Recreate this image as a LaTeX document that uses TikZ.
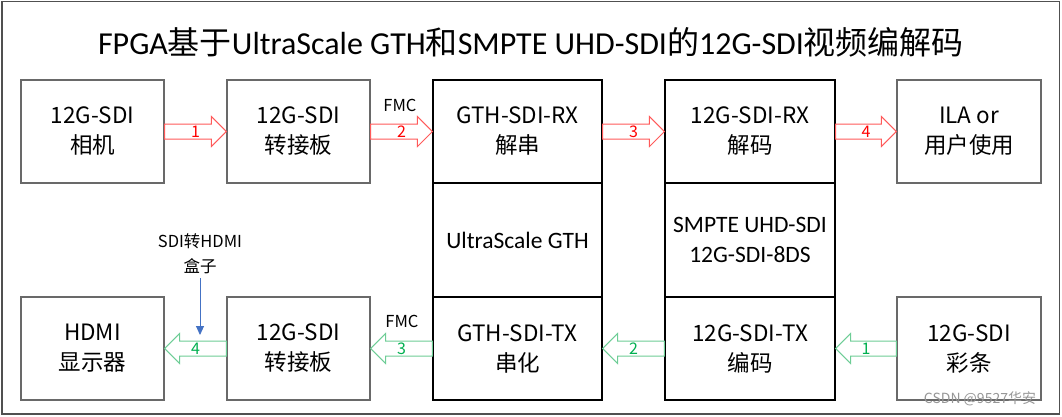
\documentclass[tikz,border=0pt]{standalone}
\usepackage{fontspec}
\setmainfont{Carlito}
\newfontfamily\cjk{Noto Sans CJK SC}
\usetikzlibrary{calc,arrows.meta}
\definecolor{boxgray}{RGB}{105,105,105}
\definecolor{framegray}{RGB}{80,80,80}
\definecolor{arrred}{RGB}{255,90,90}
\definecolor{numred}{RGB}{255,0,0}
\definecolor{arrgreen}{RGB}{110,205,150}
\definecolor{numgreen}{RGB}{0,176,80}
\definecolor{blueline}{RGB}{68,114,196}
\definecolor{wmgray}{RGB}{150,150,150}
\tikzset{
  box/.style={draw=boxgray, line width=1.2pt, inner sep=0pt, align=center,
    font=\cjk\fontsize{22.5}{30}\selectfont, text=black},
  colbox/.style={box, draw=black, line width=1.1pt},
  latinbox/.style={colbox, font=\fontsize{23.5}{30}\selectfont},
  rarrow/.style={draw=arrred, line width=1pt, fill=white},
  garrow/.style={draw=arrgreen, line width=1pt, fill=white},
  rnum/.style={text=numred, font=\cjk\fontsize{16}{16}\selectfont, inner sep=0pt},
  gnum/.style={text=numgreen, font=\cjk\fontsize{16}{16}\selectfont, inner sep=0pt},
  small/.style={font=\cjk\fontsize{16.5}{25}\selectfont, align=center, inner sep=0pt},
  bluearr/.style={draw=blueline, line width=0.9pt, -{Triangle[length=9pt,width=8pt]}},
}
% #1 start, #2 end, #3 arrow style, #4 number style, #5 label name, #6 label
\newcommand\blockarrow[6]{%
  \coordinate (h) at ($(#2)!15pt!(#1)$);
  \draw[#3] ($(#1)+(0,7.5)$) -- ($(h)+(0,7.5)$) -- ($(h)+(0,15)$) -- (#2)
     -- ($(h)+(0,-15)$) -- ($(h)+(0,-7.5)$) -- ($(#1)+(0,-7.5)$) -- cycle;
  \node[#4] (#5) at ($(#1)!0.5!(#2)$) {#6};
}
\begin{document}
\begin{tikzpicture}[x=1pt,y=-1pt]
\useasboundingbox (0,0) rectangle (1062,416);
\draw[framegray, line width=1.3pt] (2,1.5) rectangle (1059.5,414);

\node[inner sep=0pt, font=\fontsize{32}{34}\selectfont] (title) at (531,42)
  {FPGA{\cjk 基于}UltraScale GTH{\cjk 和}SMPTE UHD-SDI{\cjk 的}12G-SDI{\cjk 视频编解码}};

% top row
\node[box, minimum width=143pt, minimum height=103pt] (cam) at (92.5,131.5) {12G-SDI\\相机};
\node[box, minimum width=143pt, minimum height=103pt] (adp1) at (298.5,131.5) {12G-SDI\\转接板};
\node[colbox, minimum width=169pt, minimum height=103pt] (rx) at (517.5,131.5) {GTH-SDI-RX\\解串};
\node[colbox, minimum width=170pt, minimum height=103pt] (dec) at (750,131.5) {12G-SDI-RX\\解码};
\node[box, minimum width=144pt, minimum height=103pt] (ila) at (969,131.5) {ILA or\\用户使用};

% middle
\node[latinbox, minimum width=169pt, minimum height=114pt] (gth) at (517.5,240) {UltraScale GTH};
\node[latinbox, minimum width=170pt, minimum height=114pt] (smpte) at (750,240) {SMPTE UHD-SDI\\12G-SDI-8DS};

% bottom row
\node[box, minimum width=143pt, minimum height=103pt] (hdmi) at (92.5,348.5) {HDMI\\显示器};
\node[box, minimum width=143pt, minimum height=103pt] (adp2) at (298.5,348.5) {12G-SDI\\转接板};
\node[colbox, minimum width=169pt, minimum height=103pt] (tx) at (517.5,348.5) {GTH-SDI-TX\\串化};
\node[colbox, minimum width=170pt, minimum height=103pt] (enc) at (750,348.5) {12G-SDI-TX\\编码};
\node[box, minimum width=144pt, minimum height=103pt] (bars) at (969,348.5) {12G-SDI\\彩条};

% red arrows
\blockarrow{cam.east}{adp1.west}{rarrow}{rnum}{r1}{1}
\blockarrow{adp1.east}{rx.west}{rarrow}{rnum}{r2}{2}
\blockarrow{rx.east}{dec.west}{rarrow}{rnum}{r3}{3}
\blockarrow{dec.east}{ila.west}{rarrow}{rnum}{r4}{4}
% green arrows
\blockarrow{bars.west}{enc.east}{garrow}{gnum}{g1}{1}
\blockarrow{enc.west}{tx.east}{garrow}{gnum}{g2}{2}
\blockarrow{tx.west}{adp2.east}{garrow}{gnum}{g3}{3}
\blockarrow{adp2.west}{hdmi.east}{garrow}{gnum}{g4}{4}

\node[small] (fmc1) at (400,105) {FMC};
\node[small] (fmc2) at (402,321) {FMC};

\node[small] (box) at (200,254) {SDI转HDMI\\盒子};
\coordinate (bt) at (200,335);
\draw[bluearr] (box.south) ++(0,4) coordinate (bs) (bs) -- (bt);

\node[inner sep=0pt, text=wmgray, font=\cjk\fontsize{14}{14}\selectfont] (wm) at (980,399) {CSDN @9527华安};
\end{tikzpicture}
\end{document}
